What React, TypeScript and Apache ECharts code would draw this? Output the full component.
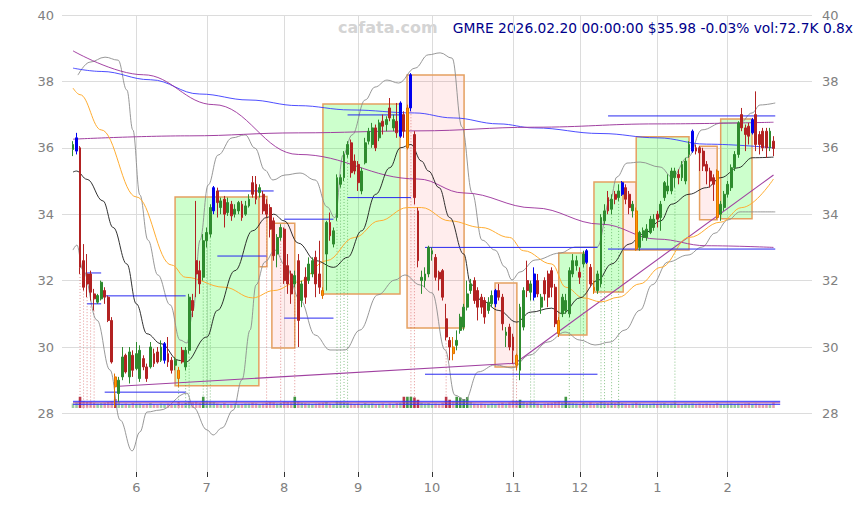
import React, { useEffect, useRef } from 'react';
import * as echarts from 'echarts';

const opens = [
  35.95,35.90,36.00,32.60,32.20,32.20,31.60,31.35,31.45,31.70,
  31.50,30.80,29.10,28.60,29.10,29.75,29.10,29.75,29.35,29.05,
  29.65,29.40,29.40,29.80,29.85,29.60,29.60,29.80,29.60,29.45,
  29.30,29.90,29.40,29.90,31.40,32.60,32.30,32.10,33.20,33.40,
  34.10,34.70,34.20,34.45,34.05,34.30,34.00,34.10,34.30,34.00,
  34.25,34.95,34.90,34.65,34.60,34.30,34.20,33.80,32.80,33.30,
  33.55,32.45,32.20,31.90,32.60,31.40,32.10,32.00,32.20,32.70,
  32.20,31.70,32.80,33.75,33.10,33.90,34.90,35.10,35.80,36.15,
  35.60,35.50,34.70,35.55,36.20,36.10,36.60,36.30,36.80,36.70,
  37.20,36.60,36.80,36.35,37.00,36.00,37.20,36.40,34.10,32.00,
  32.00,32.20,32.80,32.70,32.25,32.30,30.85,30.20,30.00,30.05,
  30.50,30.60,31.20,31.70,32.00,31.70,31.50,31.40,31.10,31.30,
  31.30,31.70,31.50,30.35,30.60,30.30,29.75,29.30,30.60,32.00,
  31.65,31.50,32.00,31.20,32.00,32.20,32.30,31.80,30.80,31.00,
  31.10,31.00,32.20,32.45,32.25,32.50,32.55,32.40,31.80,31.70,
  31.90,33.80,34.50,34.15,34.60,34.50,34.60,34.80,34.60,34.10,
  34.10,33.00,33.30,33.30,33.45,33.60,34.00,33.90,34.50,34.70,
  34.70,35.10,35.20,35.10,35.00,35.80,35.90,36.00,36.00,35.90,
  35.50,35.30,35.10,35.30,34.00,34.20,34.60,34.80,35.40,35.80,
  37.00,36.60,36.65,36.45,37.00,36.40,36.50,36.50,36.00,36.20,
];
const closes = [
  36.10,36.30,32.40,31.80,31.90,31.65,31.45,31.55,31.95,31.50,
  30.80,29.55,28.80,29.00,29.70,29.25,29.85,29.30,29.80,29.90,
  29.40,29.05,30.00,29.50,29.55,30.00,30.10,29.55,29.30,29.60,
  29.05,29.55,29.90,31.50,31.10,32.20,31.90,33.20,33.45,34.20,
  34.80,34.35,34.40,34.00,34.35,33.95,34.15,34.35,33.90,34.25,
  34.45,34.60,34.45,34.80,34.10,34.00,33.55,32.75,33.30,33.60,
  32.00,31.90,31.60,32.15,30.80,31.90,31.50,32.50,32.60,31.90,
  31.80,31.55,33.75,33.35,33.50,35.10,35.10,35.80,36.10,35.25,
  35.30,34.95,35.30,36.15,36.50,36.60,36.00,36.75,36.65,36.85,
  36.90,36.85,36.45,37.35,36.50,37.20,38.20,34.50,32.60,32.10,
  32.20,33.00,32.90,32.10,32.05,31.50,30.30,30.00,29.80,30.20,
  30.90,31.20,31.60,31.90,31.40,31.20,31.20,30.90,31.35,31.55,
  31.70,31.50,30.70,30.45,30.00,29.90,29.45,31.20,31.70,31.70,
  31.90,32.20,31.60,31.50,31.60,31.50,31.80,30.70,30.40,31.50,
  31.40,32.30,32.60,32.60,32.10,32.80,32.90,31.90,31.70,32.20,
  33.90,34.10,34.10,34.45,34.45,34.70,34.95,34.45,34.20,34.30,
  32.95,33.45,33.50,33.55,33.85,33.85,33.85,34.30,34.95,34.85,
  35.30,35.30,35.10,35.50,35.60,36.10,36.50,35.90,35.85,35.45,
  35.30,35.00,34.90,33.90,34.30,34.60,34.90,35.40,35.80,36.75,
  36.60,36.40,36.35,36.85,36.10,36.10,36.00,36.00,36.50,35.98,
];
const lows = [
  35.75,35.80,32.20,31.70,31.50,31.40,31.10,31.30,31.40,31.30,
  30.75,29.50,28.20,28.35,29.00,29.20,28.90,29.10,29.30,28.95,
  29.30,28.95,29.35,29.40,29.50,29.55,29.50,29.40,29.20,29.30,
  28.80,29.50,29.30,29.80,30.90,31.50,31.60,32.00,33.00,33.30,
  34.00,33.90,34.00,33.60,33.95,33.80,33.90,34.00,33.80,33.95,
  34.20,34.50,34.30,34.50,34.00,33.90,33.30,32.60,32.40,33.20,
  31.90,31.60,31.30,31.80,30.00,31.20,31.30,31.90,32.10,31.50,
  31.60,31.45,31.70,33.20,33.00,33.80,34.80,35.00,35.70,35.10,
  35.20,34.70,34.60,35.50,36.10,36.00,35.90,36.20,36.40,36.50,
  36.80,36.50,36.30,36.30,36.30,35.95,37.10,34.30,32.40,31.60,
  31.80,32.10,32.60,32.00,31.70,31.40,30.20,29.60,29.60,29.90,
  30.40,30.50,31.10,31.60,31.30,30.80,31.00,30.70,31.00,31.20,
  31.20,31.40,30.50,30.00,29.90,29.50,29.30,29.00,30.50,31.50,
  31.40,31.40,31.50,31.00,31.40,31.20,31.50,30.60,30.30,30.90,
  31.00,30.90,32.10,32.30,31.90,32.40,32.50,31.80,31.60,31.60,
  31.80,33.70,34.00,34.00,34.30,34.40,34.55,34.30,34.00,33.90,
  32.90,32.90,33.20,33.20,33.40,33.50,33.60,33.50,34.40,34.60,
  34.60,34.80,34.90,35.00,34.90,35.70,35.85,35.80,35.30,35.30,
  34.90,34.80,34.40,33.85,33.80,34.10,34.50,34.70,35.30,35.70,
  36.50,35.90,36.10,36.40,35.90,35.80,35.90,35.70,35.90,35.75,
];
const highs = [
  36.20,36.45,36.05,33.10,32.80,32.30,31.75,31.60,32.00,31.80,
  31.55,30.90,29.20,29.10,30.00,29.80,30.00,29.90,30.15,30.05,
  29.75,29.50,30.15,29.95,30.00,30.20,30.15,30.30,29.70,29.70,
  29.40,30.00,30.00,31.60,31.60,34.40,32.60,33.40,33.60,34.30,
  34.85,34.80,34.50,34.55,34.50,34.40,34.30,34.40,34.40,34.40,
  34.60,35.15,35.15,34.90,34.70,34.45,34.30,33.90,33.40,33.70,
  33.60,32.80,32.30,32.30,32.80,32.00,32.40,32.70,32.70,32.90,
  33.20,31.80,33.80,34.05,33.60,35.20,35.20,35.90,36.20,36.25,
  35.80,35.60,35.40,36.30,36.60,36.75,36.70,36.85,37.00,36.95,
  37.50,37.00,37.35,37.40,37.10,37.30,38.25,36.50,34.20,32.30,
  32.40,33.05,33.00,32.80,32.30,32.35,31.30,30.30,30.30,30.50,
  31.00,31.30,32.00,32.05,32.10,31.80,31.60,31.50,31.50,31.70,
  31.75,31.90,31.60,30.60,30.70,30.40,29.80,31.30,31.80,32.60,
  32.00,32.40,32.20,31.60,32.10,32.30,32.40,31.90,30.90,31.60,
  31.60,32.40,32.80,32.75,32.40,32.90,32.95,32.50,32.00,32.30,
  34.00,34.30,34.70,34.60,34.70,34.90,35.00,34.90,34.70,34.40,
  34.20,33.50,33.60,33.70,33.95,34.00,34.10,34.40,35.00,35.20,
  35.40,35.40,35.35,35.60,35.70,36.20,36.55,36.10,36.05,36.00,
  35.60,35.40,35.20,35.35,34.40,34.70,35.00,35.50,35.90,36.80,
  37.20,36.70,36.75,36.90,37.70,36.50,36.60,36.60,36.60,36.35,
];
const volumes = [
  60,75,150,95,80,85,70,60,65,70,
  80,90,120,85,55,60,50,65,55,60,
  50,55,65,50,45,60,55,60,50,55,
  80,60,70,90,75,85,70,150,90,85,
  80,60,55,65,50,55,60,50,55,60,
  60,70,65,55,60,70,80,75,60,65,
  85,80,75,150,90,70,65,60,55,60,
  65,70,80,60,55,85,80,75,70,60,
  55,60,50,65,55,60,50,55,60,50,
  60,55,65,70,150,150,150,140,110,70,
  60,65,55,60,55,70,150,110,90,150,
  140,120,145,80,60,55,60,55,50,60,
  55,60,70,60,75,100,95,110,85,70,
  80,75,60,55,60,65,70,80,90,75,
  150,70,65,60,55,70,60,75,60,65,
  80,70,65,75,70,80,65,60,55,60,
  70,60,55,50,55,60,55,60,65,55,
  60,75,55,50,60,55,60,55,60,55,
  60,55,50,65,55,50,55,60,55,60,
  55,60,65,55,60,55,50,55,50,73,
];

const blueMarks = [1, 26, 40, 93, 96, 120, 131, 146, 156, 176, 193];
const orangeMarks = [12, 30, 71, 95, 108, 126, 138, 148, 160, 183];

const monthTicks = [18, 38, 60, 81, 102, 125, 144, 166, 186];
const monthLabels = ['6', '7', '8', '9', '10', '11', '12', '1', '2'];

// [startIdx, endIdx, top, bottom]
const greenBoxes = [
  [29, 52.8, 34.52, 28.83],
  [71, 92.9, 37.32, 31.6],
  [138, 146, 32.83, 30.36],
  [148, 156.3, 34.97, 31.66],
  [160, 175, 36.33, 32.92],
  [184, 192.9, 36.87, 33.86],
];
const pinkBoxes = [
  [52.8, 55.1, 34.53, 32.42],
  [56.5, 63, 33.73, 29.97],
  [94.9, 111.1, 38.19, 30.57],
  [119.9, 126.1, 31.93, 29.4],
  [156.3, 160, 34.97, 32.92],
  [178, 183, 36.05, 33.83],
];

// [startIdx, endIdx, price]
const levelSegments = [
  [4, 8, 32.23], [4, 8, 31.3], [9, 32, 31.54], [9, 32, 28.64],
  [41, 57, 34.7], [41, 55, 32.74], [60, 74, 33.85], [60, 74, 30.87],
  [78, 93, 36.99], [78, 96, 34.5], [100, 149, 33.0], [100, 149, 29.18],
  [152, 199.5, 36.96], [152, 199.5, 32.95],
];

const redSignals = [2, 3, 4, 5, 6, 55, 59, 63, 96, 97, 106, 125, 126];
const greenSignals = [30, 32, 33, 37, 38, 39, 75, 76, 77, 78, 130, 131, 141, 145, 150, 151, 153, 155, 171];

const maBlack = [[0,35.27],[1,35.3],[4,35.05],[8.5,34.4],[11.4,33.6],[15.3,32.5],[18,31.3],[21,30.4],[25,30.1],[30,29.6],[32,29.55],[38,30.3],[41,31.1],[46,32.3],[51,33.5],[55,33.9],[57,34.0],[60,33.8],[64,33.13],[69,32.6],[74,32.4],[78,32.7],[82,33.5],[86,34.6],[90,35.4],[93,36.0],[96,36.1],[99,35.6],[101,35.3],[104,34.8],[107,33.9],[111,32.8],[113,31.9],[116,31.4],[121,31.1],[126,30.75],[130,31.05],[136,31.17],[139,31.0],[144,31.48],[149,32.0],[153,32.5],[158,33.1],[162,33.4],[167,33.8],[170,34.3],[175,34.6],[180,34.8],[184,35.1],[189,35.4],[193,35.7],[199,35.72]];
const maOrange = [[0,37.8],[2,37.6],[8,36.54],[18,34.52],[28,32.47],[32,32.1],[43,31.8],[51,31.48],[57,31.7],[64,31.96],[72,32.6],[80,33.3],[87,33.8],[95,34.2],[99,34.2],[107,33.8],[116,33.6],[124,33.3],[128,32.9],[136,32.5],[140,31.8],[145,31.48],[150,31.36],[155,31.5],[161,31.9],[167,32.4],[175,33.3],[184,33.76],[190,34.2],[199,35.06]];
const maBlue = [[0,38.4],[8,38.3],[22,38.05],[36,37.62],[50,37.44],[64,37.27],[79,37.14],[97,37.05],[108,36.9],[121,36.72],[131,36.6],[150,36.43],[166,36.3],[180,36.11],[199,36.0]];
const purpleFlat = [[0,36.26],[33,36.36],[64,36.45],[98,36.51],[131,36.62],[166,36.72],[199,36.77]];
const purpleCurve = [[0,38.92],[20,38.2],[40,37.3],[64,35.8],[98,35.06],[111,34.64],[131,34.19],[150,33.7],[166,33.25],[180,33.05],[199,33.0]];
const purpleLow1 = [[13,28.82],[125.6,29.51]];
const purpleLow2 = [[125.6,29.51],[199,35.18]];
const bandUpper = [[1.4,38.19],[4.8,38.58],[9.1,38.73],[12.8,38.64],[15.3,37.74],[17,36.54],[19,34.58],[21.3,33.22],[24.1,32.17],[27.6,31.27],[30.4,30.21],[32.4,30.12],[34.1,31.11],[36.1,33.22],[38.4,34.88],[41.2,35.78],[45.2,36.3],[48.9,36.39],[51.7,35.99],[54.5,35.33],[56.8,35.03],[60.2,35.18],[64.5,35.24],[68.8,35.03],[72.2,34.22],[74.4,33.89],[76.7,35.78],[79.3,36.39],[83,37.44],[85.8,37.83],[89.2,38.04],[92.5,37.95],[97.2,38.4],[100.9,38.8],[104.3,38.86],[107.7,38.7],[110.5,36.63],[113.4,34.64],[116.2,33.22],[119.9,32.92],[122.7,32.41],[124.7,32.02],[127,32.26],[131.3,32.62],[138.4,32.83],[142.6,33.01],[148.9,33.01],[152.6,34.43],[154.5,35.12],[157.4,35.54],[161.1,35.57],[166.8,35.42],[170.2,35.12],[174.7,35.72],[178.7,36.54],[184.4,36.75],[189.5,36.75],[192.9,37.05],[195.2,37.29],[199.5,37.35]];
const bandLower = [[0,32.92],[1.1,33.07],[2.8,32.32],[6.8,30.81],[10.5,29.31],[13.4,27.8],[16.8,26.87],[19,27.44],[21,28.04],[24.7,28.1],[32.4,28.61],[34.1,28.19],[38.1,27.5],[39.8,27.35],[42.3,27.56],[45.5,28.1],[48,29.01],[50.3,30.51],[52,31.87],[54.5,32.56],[57.4,32.92],[60.2,32.47],[64.5,31.42],[68.8,30.36],[73,29.91],[77.3,29.91],[81.5,30.51],[86.6,31.57],[91.5,32.02],[94.3,32.17],[98.6,31.87],[102,31.63],[105.7,29.91],[108.5,28.55],[111.4,28.4],[115.1,29.25],[119.9,29.46],[124.7,29.37],[129.8,29.76],[134.9,30.15],[139.8,30.45],[144,30.21],[148.3,30.06],[152.6,30.15],[156.8,30.51],[161.1,31.11],[164.5,31.87],[169,32.56],[174.7,32.77],[178.7,33.01],[182.4,33.43],[186.1,33.83],[189.5,34.07],[199.5,34.07]];

const volLevels = [89, 69, 49];

const XMIN = -3.125;
const XMAX = 209.94;
const YMIN = 26.235;
const YMAX = 40;

const GREEN = '#2e8b2e';
const RED = '#b22222';
const BLUE = '#0000ee';
const ORANGE = '#ff9900';
const FONT = 'DejaVu Sans';

function buildOption() {
  const candleData = opens.map((o, i) => {
    const item: any = { value: [i, o, closes[i], lows[i], highs[i]] };
    if (blueMarks.includes(i)) {
      item.itemStyle = { color: BLUE, color0: BLUE, borderColor: BLUE, borderColor0: BLUE };
    } else if (orangeMarks.includes(i)) {
      item.itemStyle = { color: ORANGE, color0: ORANGE, borderColor: '#e07000', borderColor0: '#e07000' };
    }
    return item;
  });

  const boxItem = (b: number[], fill: string) => [
    { coord: [b[0], b[2]], itemStyle: { color: fill, borderColor: '#e5a060', borderWidth: 1.5 } },
    { coord: [b[1], b[3]] },
  ];
  const areaData = [
    ...greenBoxes.map((b) => boxItem(b, 'rgba(0,255,0,0.2)')),
    ...pinkBoxes.map((b) => boxItem(b, 'rgba(255,0,0,0.07)')),
  ];

  const signalData = [
    ...redSignals.map((i) => [i, lows[i], 0]),
    ...greenSignals.map((i) => [i, lows[i], 1]),
  ];

  const volData = volumes.map((v, i) => {
    const up = closes[i] >= opens[i];
    const strong = v >= 110;
    const color = up
      ? strong ? 'rgba(46,139,46,0.9)' : 'rgba(46,139,46,0.45)'
      : strong ? 'rgba(178,34,52,0.9)' : 'rgba(190,50,70,0.45)';
    return { value: [i, v], itemStyle: { color } };
  });

  const line = (data: number[][], color: string, width = 1, smooth: any = 0.4, z = 3) => ({
    type: 'line',
    xAxisIndex: 0,
    yAxisIndex: 0,
    data,
    symbol: 'none',
    showSymbol: false,
    smooth,
    smoothMonotone: 'x',
    lineStyle: { color, width },
    silent: true,
    z,
  });

  const volLine = (v: number, color: string) => ({
    type: 'line',
    xAxisIndex: 1,
    yAxisIndex: 2,
    data: [[0, v], [200.9, v]],
    symbol: 'none',
    lineStyle: { color, width: 1 },
    silent: true,
    z: 4,
  });

  const yLabel = {
    color: '#808080',
    fontSize: 13,
    fontFamily: FONT,
    showMinLabel: false,
    formatter: (v: number) => (Math.abs(v - Math.round(v)) < 1e-6 ? String(Math.round(v)) : ''),
  };

  return {
    animation: false,
    backgroundColor: '#ffffff',
    textStyle: { fontFamily: FONT },
    grid: [
      { left: 62, right: 52, top: 15, height: 457 },
      { left: 62, right: 52, top: 396, height: 12 },
    ],
    xAxis: [
      {
        type: 'value',
        gridIndex: 0,
        min: XMIN,
        max: XMAX,
        axisLine: { show: false },
        axisTick: { show: true, length: 5, customValues: monthTicks, lineStyle: { color: '#333', width: 1 } },
        axisLabel: {
          customValues: monthTicks,
          color: '#808080',
          fontSize: 13,
          fontFamily: FONT,
          margin: 9,
          formatter: (v: number) => {
            const k = monthTicks.indexOf(Math.round(v));
            return k >= 0 ? monthLabels[k] : '';
          },
        },
        splitLine: { show: true, lineStyle: { color: '#dcdcdc', width: 1 } },
      },
      { type: 'value', gridIndex: 1, min: XMIN, max: XMAX, show: false },
    ],
    yAxis: [
      {
        type: 'value',
        gridIndex: 0,
        min: YMIN,
        max: YMAX,
        splitNumber: 7,
        position: 'left',
        axisLine: { show: false },
        axisTick: { show: false },
        axisLabel: { ...yLabel, margin: 8 },
        splitLine: {
          show: true,
          lineStyle: { color: ['rgba(0,0,0,0)', '#dcdcdc', '#dcdcdc', '#dcdcdc', '#dcdcdc', '#dcdcdc', '#dcdcdc', '#dcdcdc'], width: 1 },
        },
      },
      {
        type: 'value',
        gridIndex: 0,
        min: YMIN,
        max: YMAX,
        splitNumber: 7,
        position: 'right',
        axisLine: { show: false },
        axisTick: { show: false },
        axisLabel: { ...yLabel, margin: 10 },
        splitLine: { show: false },
      },
      { type: 'value', gridIndex: 1, min: 0, max: 160, show: false },
    ],
    graphic: [
      {
        type: 'text',
        x: 338,
        y: 27,
        silent: true,
        style: {
          text: 'cafata.com',
          fill: '#d4d4d4',
          font: 'bold 16px "DejaVu Sans"',
          verticalAlign: 'middle',
          textVerticalAlign: 'middle',
        },
      },
      {
        type: 'text',
        x: 853,
        y: 28,
        silent: true,
        style: {
          text: 'GMRE 2026.02.20 00:00:00 $35.98 -0.03% vol:72.7K 0.8x',
          fill: '#00008b',
          font: '13.8px "DejaVu Sans"',
          align: 'right',
          textAlign: 'right',
          verticalAlign: 'middle',
          textVerticalAlign: 'middle',
        },
      },
    ],
    series: [
      {
        type: 'bar',
        xAxisIndex: 1,
        yAxisIndex: 2,
        barWidth: 2.6,
        data: volData,
        silent: true,
        z: 2,
      },
      volLine(volLevels[0], '#3030ff'),
      volLine(volLevels[1], '#a040a0'),
      volLine(volLevels[2], '#3030ff'),
      {
        type: 'custom',
        xAxisIndex: 0,
        yAxisIndex: 0,
        silent: true,
        z: 2,
        data: signalData,
        encode: { x: 0, y: 1 },
        renderItem: (params: any, api: any) => {
          const a = api.coord([api.value(0), api.value(1)]);
          const b = api.coord([api.value(0), 28.15]);
          return {
            type: 'line',
            shape: { x1: a[0], y1: a[1], x2: b[0], y2: b[1] },
            style: {
              stroke: api.value(2) === 1 ? 'rgba(58,154,58,0.75)' : 'rgba(208,72,72,0.75)',
              lineWidth: 0.8,
              lineDash: [1, 2],
            },
          };
        },
      },
      line(bandUpper, '#8c8c8c', 0.9),
      line(bandLower, '#8c8c8c', 0.9),
      line(maBlue, '#3a3aff', 0.9),
      line(purpleFlat, '#a040a0', 1),
      line(purpleCurve, '#9a2f9a', 0.9),
      line(purpleLow1, '#a040a0', 1.1, false),
      line(purpleLow2, '#a040a0', 1.1, false),
      line(maOrange, '#ffad33', 1),
      line(maBlack, '#1a1a1a', 0.9),
      {
        type: 'custom',
        xAxisIndex: 0,
        yAxisIndex: 0,
        silent: true,
        z: 4,
        data: levelSegments,
        encode: { x: [0, 1], y: 2 },
        renderItem: (params: any, api: any) => {
          const a = api.coord([api.value(0), api.value(2)]);
          const b = api.coord([api.value(1), api.value(2)]);
          return {
            type: 'line',
            shape: { x1: a[0], y1: a[1], x2: b[0], y2: b[1] },
            style: { stroke: '#2828f0', lineWidth: 1 },
          };
        },
      },
      {
        type: 'candlestick',
        xAxisIndex: 0,
        yAxisIndex: 0,
        barWidth: 2.4,
        data: candleData,
        encode: { x: 0, y: [1, 2, 3, 4] },
        itemStyle: { color: GREEN, color0: RED, borderColor: GREEN, borderColor0: RED, borderWidth: 1 },
        silent: true,
        z: 5,
        markArea: {
          silent: true,
          z: 1,
          label: { show: false },
          data: areaData,
        },
      },
    ],
  };
}

export default function App() {
  const ref = useRef<HTMLDivElement>(null);
  useEffect(() => {
    if (!ref.current) return;
    const chart = echarts.init(ref.current, null, { renderer: 'svg' });
    chart.setOption(buildOption() as any);
    return () => chart.dispose();
  }, []);
  return (
    <div
      ref={ref}
      style={{ position: 'fixed', left: 0, top: 0, width: 864, height: 506, background: '#fff' }}
    />
  );
}
